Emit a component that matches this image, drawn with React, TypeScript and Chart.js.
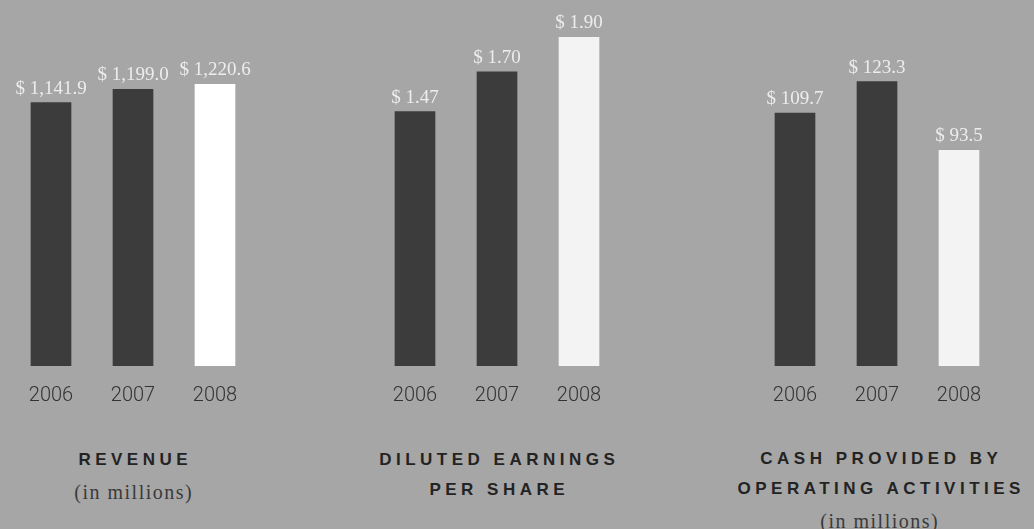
import React, { useEffect, useRef } from "react";
import { Chart, registerables } from "chart.js";

Chart.register(...registerables);

// ---- data ----
const years = ["2006", "2007", "2008"];
const revenue = [1141.9, 1199.0, 1220.6];
const dilutedEps = [1.47, 1.7, 1.9];
const cashFromOps = [109.7, 123.3, 93.5];

const revenueTitle = ["REVENUE"];
const epsTitle = ["DILUTED EARNINGS", "PER SHARE"];
const cashTitle = ["CASH PROVIDED BY", "OPERATING ACTIVITIES"];
const unitNote = "(in millions)";

// ---- style ----
const BG = "#a6a6a6";
const DARK = "#3c3c3c";
const PLOT_TOP = 20;
const TICK_PAD = 18;
const TICK_LH = 24;
const CANVAS_H = 426;
const PANEL_W = 246;

type PanelProps = {
  left: number;
  values: number[];
  max: number;
  decimals: number;
  colors: string[];
};

function BarPanel({ left, values, max, decimals, colors }: PanelProps) {
  const ref = useRef<HTMLCanvasElement | null>(null);
  useEffect(() => {
    if (!ref.current) return;
    const fmt = (v: number) =>
      "$ " +
      v.toLocaleString("en-US", {
        minimumFractionDigits: decimals,
        maximumFractionDigits: decimals,
      });
    const valueLabels = {
      id: "valueLabels",
      afterDatasetsDraw(chart: any) {
        const ctx = chart.ctx;
        const meta = chart.getDatasetMeta(0);
        const data = chart.data.datasets[0].data as number[];
        ctx.save();
        ctx.font = '19px "Liberation Serif", serif';
        ctx.fillStyle = "#ededed";
        ctx.textAlign = "center";
        ctx.textBaseline = "alphabetic";
        meta.data.forEach((el: any, i: number) => {
          ctx.fillText(fmt(data[i]), el.x, el.y - 9);
        });
        ctx.restore();
      },
    };
    const chart = new Chart(ref.current, {
      type: "bar",
      data: {
        labels: years,
        datasets: [
          {
            data: values,
            backgroundColor: colors,
            borderWidth: 0,
            barThickness: 40,
          },
        ],
      },
      options: {
        animation: false,
        responsive: true,
        maintainAspectRatio: false,
        layout: { padding: { top: PLOT_TOP, left: 0, right: 0, bottom: 0 } },
        plugins: {
          legend: { display: false },
          tooltip: { enabled: false },
          title: { display: false },
        },
        scales: {
          x: {
            grid: { display: false, drawTicks: false },
            border: { display: false },
            ticks: {
              padding: TICK_PAD,
              color: "#333333",
              font: { family: "Roboto, 'Liberation Sans', sans-serif", size: 20, weight: 300, lineHeight: TICK_LH / 20 },
            },
          },
          y: {
            display: false,
            min: 0,
            max: max,
          },
        },
      },
      plugins: [valueLabels],
    });
    return () => chart.destroy();
  }, [values, max, decimals, colors]);
  return (
    <div style={{ position: "absolute", left, top: 0, width: PANEL_W, height: CANVAS_H }}>
      <canvas ref={ref} />
    </div>
  );
}

type Line = { text: string; y: number; kind: "head" | "note" };

function TitleBlock({ center, lines }: { center: number; lines: Line[] }) {
  return (
    <>
      {lines.map((l, i) => {
        const head = l.kind === "head";
        const ls = head ? 4.5 : 1.5;
        return (
          <div
            key={i}
            style={{
              position: "absolute",
              left: center - 200,
              width: 400,
              top: l.y - 15,
              height: 30,
              lineHeight: "30px",
              textAlign: "center",
              whiteSpace: "nowrap",
              paddingLeft: ls,
              boxSizing: "border-box",
              letterSpacing: ls + "px",
              color: head ? "#232323" : "#3a3a3a",
              fontFamily: head ? "'Liberation Sans', Arial, sans-serif" : "'Liberation Serif', serif",
              fontWeight: head ? 700 : 400,
              fontSize: head ? 17 : 20,
            }}
          >
            {l.text}
          </div>
        );
      })}
    </>
  );
}

export default function App() {
  const lightColors = [DARK, DARK, "#ffffff"];
  const paleColors = [DARK, DARK, "#f3f3f3"];
  return (
    <div
      style={{
        position: "fixed",
        left: 0,
        top: 0,
        width: 1034,
        height: 529,
        background: BG,
        overflow: "hidden",
      }}
    >
      <BarPanel left={10} values={revenue} max={1500} decimals={1} colors={lightColors} />
      <BarPanel left={374} values={dilutedEps} max={2} decimals={2} colors={paleColors} />
      <BarPanel left={754} values={cashFromOps} max={150} decimals={1} colors={paleColors} />

      <TitleBlock
        center={133}
        lines={[
          { text: revenueTitle[0], y: 460, kind: "head" },
          { text: unitNote, y: 492, kind: "note" },
        ]}
      />
      <TitleBlock
        center={497}
        lines={[
          { text: epsTitle[0], y: 460, kind: "head" },
          { text: epsTitle[1], y: 490, kind: "head" },
        ]}
      />
      <TitleBlock
        center={879}
        lines={[
          { text: cashTitle[0], y: 459, kind: "head" },
          { text: cashTitle[1], y: 489, kind: "head" },
          { text: unitNote, y: 521, kind: "note" },
        ]}
      />
    </div>
  );
}
